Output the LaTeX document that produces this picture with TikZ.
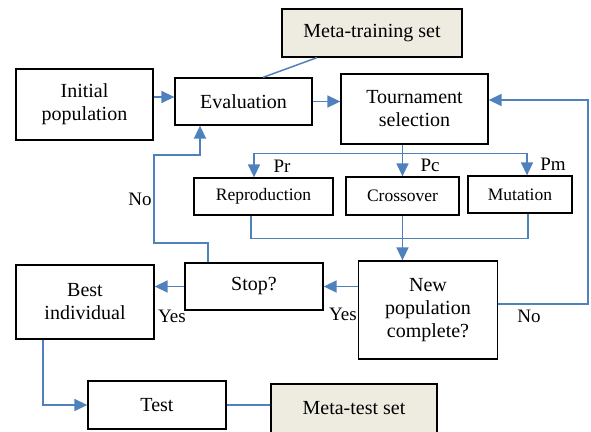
\documentclass[tikz,border=0pt]{standalone}
\usepackage{fontspec}
\setmainfont{Liberation Serif}
\usetikzlibrary{arrows.meta,calc}
\definecolor{flow}{HTML}{4F81BD}
\definecolor{dataset}{HTML}{EEECE1}
\tikzset{
  box/.style={draw=black, line width=1.3pt, fill=white, align=center, inner sep=0pt,
              font=\fontsize{20}{23}\selectfont},
  smallbox/.style={box, font=\fontsize{17.5}{20}\selectfont},
  databox/.style={box, fill=dataset},
  link/.style={draw=flow, line width=1.5pt},
  arr/.style={link, -{Triangle[length=13pt,width=12pt]}},
  lbl/.style={font=\fontsize{19}{22}\selectfont, inner sep=0pt}
}
\begin{document}
\begin{tikzpicture}[x=1pt,y=-1pt]
\useasboundingbox (0,0) rectangle (591,431);

% process boxes
\node[box, minimum width=137pt, minimum height=71pt] (init) at (84.5,104.5) {Initial\\population};
\node[box, minimum width=137pt, minimum height=47pt] (eval) at (243.5,101.5) {Evaluation};
\node[databox, minimum width=180pt, minimum height=48pt] (meta1) at (372,33) {Meta-training set};
\node[box, minimum width=147pt, minimum height=70pt] (tour) at (414.5,109) {Tournament\\selection};
\node[smallbox, minimum width=139pt, minimum height=37pt] (repro) at (263.5,196.5) {Reproduction};
\node[smallbox, minimum width=113pt, minimum height=38pt] (cross) at (402.5,196) {Crossover};
\node[smallbox, minimum width=104pt, minimum height=37pt] (mut) at (520,194.5) {Mutation};
\node[box, minimum width=138pt, minimum height=47pt] (stop) at (254,286.5) {Stop?};
\node[box, minimum width=139pt, minimum height=98pt] (newpop) at (428,310) {New\\population\\complete?};
\node[box, minimum width=138pt, minimum height=74pt] (best) at (85,302) {Best\\individual};
\node[box, minimum width=138pt, minimum height=48pt] (test) at (157,405) {Test};
\node[databox, minimum width=166pt, minimum height=49pt] (meta2) at (354,408.5) {Meta-test set};

% helper corners for the loops
\coordinate (nlow) at (154,243);
\coordinate (nhigh) at (154,155);
\coordinate (rt) at (588,0);
\coordinate (tourin) at ([yshift=9pt]tour.east);
\coordinate (hub) at ([yshift=-9pt]tour.south -| cross.north);

% main flow
\draw[arr] ([yshift=7.5pt]init.east) coordinate (a1) -- (a1 -| eval.west);
\draw[arr] (eval.east) -- (eval.east -| tour.west);
\draw[link] ([xshift=-55pt]meta1.south) -- ([xshift=19.5pt]eval.north);

% selection into the three operators
\draw[arr] (tour.south -| cross.north) -- (cross.north);
\draw[arr] (hub) -| ([xshift=-9.5pt]repro.north);
\draw[arr] (hub) -| ([xshift=7pt]mut.north);
\node[lbl] (pr) at (282,166) {Pr};
\node[lbl] (pc) at (430,165) {Pc};
\node[lbl] (pm) at (553,164) {Pm};

% operators join into the new population
\draw[link] ([xshift=-12.5pt]repro.south) -- ++(0,23) -| ([xshift=8pt]mut.south);
\draw[arr] (cross.south) -- (cross.south |- newpop.north);

% new population complete?
\draw[arr] (stop.east -| newpop.west) -- (stop.east);
\node[lbl] (yes1) at (343,314) {Yes};
\draw[arr] ([yshift=6pt]newpop.east) -| (rt |- tourin) -- (tourin);
\node[lbl] (no1) at (529,316) {No};

% stop?
\draw[arr] ([xshift=-46pt]stop.north) |- (nlow) -- (nhigh) -| ([xshift=-43.5pt]eval.south);
\node[lbl] (no2) at (140,199) {No};
\draw[arr] (stop.west) -- (stop.west -| best.east);
\node[lbl] (yes2) at (172,316) {Yes};

% final test
\draw[arr] ([xshift=-42pt]best.south) |- (test.west);
\draw[link] (test.east) -- (test.east -| meta2.west);
\end{tikzpicture}
\end{document}
